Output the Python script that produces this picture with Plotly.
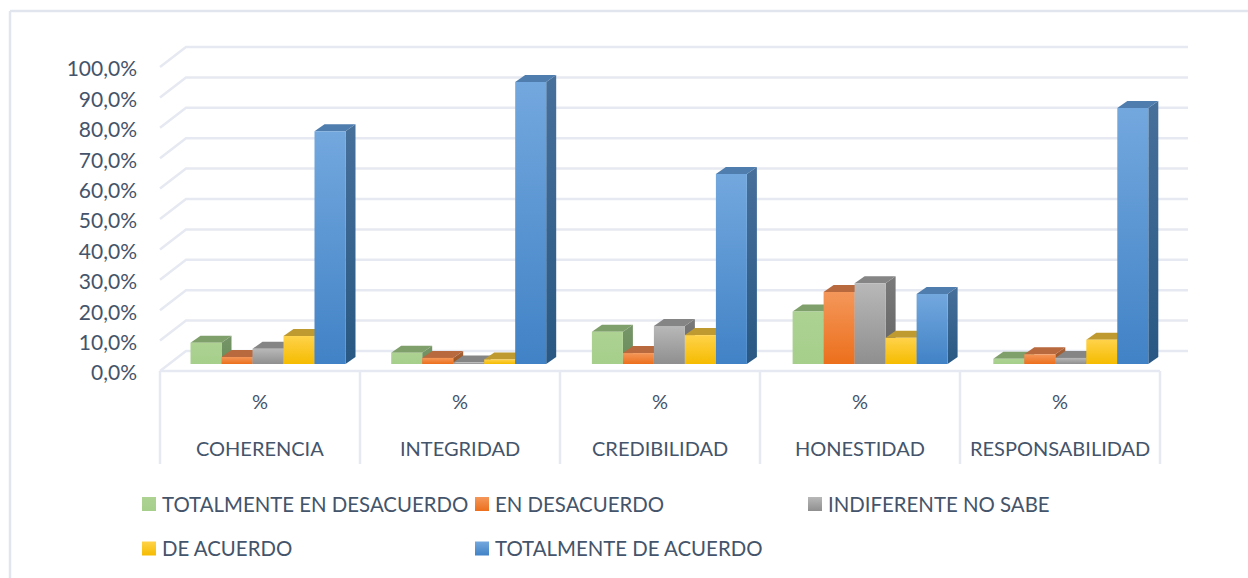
import plotly.graph_objects as go

categories = ["COHERENCIA", "INTEGRIDAD", "CREDIBILIDAD", "HONESTIDAD", "RESPONSABILIDAD"]
sublabel = "%"
totalmente_desacuerdo = [7.0, 3.7, 10.6, 17.3, 1.7]
en_desacuerdo = [2.3, 2.0, 3.6, 23.7, 3.2]
indiferente = [5.0, 0.5, 12.5, 26.6, 2.0]
de_acuerdo = [9.2, 1.5, 9.5, 8.6, 8.0]
totalmente_acuerdo = [76.6, 92.8, 62.5, 23.0, 84.2]
y_ticks = [0, 10, 20, 30, 40, 50, 60, 70, 80, 90, 100]
y_labels = ["0,0%", "10,0%", "20,0%", "30,0%", "40,0%", "50,0%", "60,0%", "70,0%", "80,0%", "90,0%", "100,0%"]

# name, values, front gradient (top, bottom), side gradient (top, bottom), top face
series = [
    ("TOTALMENTE EN DESACUERDO", totalmente_desacuerdo, ("#ADD292", "#A6CF8B"), ("#76966A", "#6A8C58"), "#7F9F6B"),
    ("EN DESACUERDO", en_desacuerdo, ("#F4975A", "#EC6F1C"), ("#A9623A", "#98531F"), "#B8693E"),
    ("INDIFERENTE NO SABE", indiferente, ("#B8B8B8", "#8F8F8F"), ("#7A7A7A", "#636363"), "#858585"),
    ("DE ACUERDO", de_acuerdo, ("#FFD24A", "#F5BC00"), ("#A88A30", "#8F7000"), "#BF9A30"),
    ("TOTALMENTE DE ACUERDO", totalmente_acuerdo, ("#73A8DE", "#4182C6"), ("#47709B", "#285883"), "#4F7DAD"),
]

TEXT = "#44546A"
GRID = "#E6E9F1"
W, H = 1248, 578
X0, X_UNIT = 160, 200      # pixel of category edge 0, pixels per category
Y0, Y_UNIT = 371, 3.04     # pixel of 0 %, pixels per 1 %


def dx(px):
    return px / X_UNIT


def dy(px):
    return px / Y_UNIT


def xp(px):
    return (px - X0) / X_UNIT


def yp(px):
    return (Y0 - px) / Y_UNIT


def face(xs, ys, colors=None, flat=None, **kw):
    args = dict(x=xs + xs[:1], y=ys + ys[:1], mode="none", fill="toself", hoverinfo="skip", showlegend=False)
    if colors:
        args["fillgradient"] = dict(type="vertical", colorscale=[[0, colors[1]], [1, colors[0]]])
    else:
        args["fillcolor"] = flat
    args.update(kw)
    return go.Scatter(**args)


fig = go.Figure()

# back wall, left wall and category dividers
wall_x, wall_y = [], []
for v in y_ticks:
    wall_x += [0, dx(26), 5 + dx(28), None]
    wall_y += [v, v + dy(20), v + dy(20), None]
for i in range(6):
    wall_x += [i, i, None]
    wall_y += [0, yp(464), None]
wall_x += [0, 5, None]
wall_y += [0, 0, None]
fig.add_trace(go.Scatter(x=wall_x, y=wall_y, mode="lines", line=dict(color=GRID, width=2.5),
                         hoverinfo="skip", showlegend=False))

# bars, left to right so the next bar covers the side of the previous one
bar_w = dx(31)
depth_x, depth_y = dx(10), dy(7)
front_y = dy(7)
for c in range(len(categories)):
    # groups drift slightly right across the chart, as in the original's perspective
    front_x = dx(8) + c * dx(0.7)
    for s, (name, values, grad, side, top) in enumerate(series):
        v = values[c]
        left = c + 0.5 - 2.5 * bar_w + s * bar_w + front_x
        right = left + bar_w
        base = front_y
        fig.add_trace(face([right, right + depth_x, right + depth_x, right],
                           [base, base + depth_y, base + v + depth_y, base + v], colors=side))
        fig.add_trace(face([left, right, right + depth_x, left + depth_x],
                           [base + v, base + v, base + v + depth_y, base + v + depth_y], flat=top))
        fig.add_trace(face([left, right, right, left],
                           [base, base, base + v, base + v], colors=grad))

annotations = []
for i, cat in enumerate(categories):
    annotations.append(dict(x=i + 0.5, y=yp(401), text=sublabel, showarrow=False))
    annotations.append(dict(x=i + 0.5, y=yp(447.5), text=cat, showarrow=False))

# legend, laid out by hand because the swatches sit close to the text
legend_pos = [(142, 504), (475, 504), (808, 504), (142, 548.5), (475, 548.5)]
for (name, values, grad, side, top), (lx, ly) in zip(series, legend_pos):
    fig.add_trace(face([xp(lx), xp(lx + 14), xp(lx + 14), xp(lx)],
                       [yp(ly + 7), yp(ly + 7), yp(ly - 7), yp(ly - 7)], colors=grad))
    annotations.append(dict(x=xp(lx + 18), y=yp(ly - 0.5), text=name, showarrow=False, xanchor="left",
                            font=dict(size=20.4)))

fig.update_layout(
    width=W, height=H,
    margin=dict(l=0, r=0, t=0, b=0),
    paper_bgcolor="white", plot_bgcolor="white",
    font=dict(family="Lato", size=20, color=TEXT),
    showlegend=False,
    annotations=annotations,
    xaxis=dict(range=[xp(0), xp(W)], visible=False, fixedrange=True),
    # tick labels sit about 2px lower than the gridline ends in the original
    yaxis=dict(range=[yp(H), yp(0)], tickvals=[v - dy(2) for v in y_ticks], ticktext=y_labels, showgrid=False,
               zeroline=False, showline=False, ticks="", anchor="free", position=X0 / W, ticklabelstandoff=23,
               fixedrange=True, tickfont=dict(size=21)),
    # the frame only shows on the top and left edges
    shapes=[
        dict(type="line", xref="paper", yref="paper", x0=10 / W, x1=1, y0=1 - 11 / H, y1=1 - 11 / H,
             line=dict(color="#E1E5EE", width=2.5), layer="below"),
        dict(type="line", xref="paper", yref="paper", x0=10 / W, x1=10 / W, y0=0, y1=1 - 11 / H,
             line=dict(color="#E1E5EE", width=2.5), layer="below"),
    ],
)

# the page's default body margin would push the chart 8px off
fig.write_html("out.html", post_script="document.body.style.margin='0';", config=dict(displayModeBar=False))
